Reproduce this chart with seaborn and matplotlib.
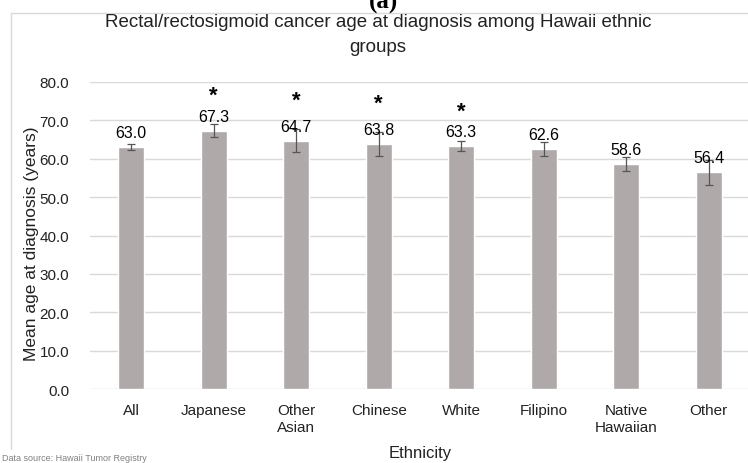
import matplotlib
matplotlib.use("Agg")
import matplotlib.pyplot as plt
from matplotlib.lines import Line2D
import seaborn as sns
import numpy as np

# Mean age at diagnosis by ethnic group, with error half-widths
categories = ["All", "Japanese", "Other\nAsian", "Chinese", "White",
              "Filipino", "Native\nHawaiian", "Other"]
mean_age = [63.0, 67.3, 64.7, 63.8, 63.3, 62.6, 58.6, 56.4]
err_half = [0.8, 1.7, 3.0, 3.0, 1.4, 1.8, 1.7, 3.3]
significant = [False, True, True, True, True, False, False, False]
y_ticks = [0, 10, 20, 30, 40, 50, 60, 70, 80]

sns.set_theme(style="white")
plt.rcParams["font.family"] = ["Liberation Sans", "DejaVu Sans"]

W, H = 748, 464
fig = plt.figure(figsize=(W / 100, H / 100), dpi=100)
ax = fig.add_axes([90 / W, 73.7 / H, 660 / W, 307.6 / H])

bar_color = "#AFAAA9"
text_color = "#222222"

sns.barplot(x=categories, y=mean_age, color=bar_color, width=0.315,
            saturation=1, errorbar=None, ax=ax, zorder=2)

xpos = np.arange(len(categories))
ax.errorbar(xpos, mean_age, yerr=err_half, fmt="none", ecolor="#555555",
            elinewidth=0.9, capsize=3, capthick=0.9, zorder=3)

# value labels above each bar
for x, v in zip(xpos, mean_age):
    ax.annotate(f"{v:.1f}", (x, v), xytext=(0, 5), textcoords="offset points",
                ha="center", va="bottom", fontsize=11.5, color="black", zorder=4)

# significance markers
for x, v, e, s in zip(xpos, mean_age, err_half, significant):
    if s:
        ax.text(x, v + e + 7.6, "*", ha="center", va="center",
                fontsize=16, fontweight="bold", color="black")

ax.set_ylim(0, 80)
ax.set_xlim(-0.5, len(categories) - 0.5)
ax.set_yticks(y_ticks)
ax.set_yticklabels([f"{t:.1f}" for t in y_ticks])
ax.yaxis.grid(True, color="#D9D9D9", linewidth=1, zorder=0)
ax.set_axisbelow(True)
for side in ["left", "right", "top", "bottom"]:
    ax.spines[side].set_visible(False)
ax.tick_params(axis="y", length=0, pad=15, labelsize=11, labelcolor=text_color)
ax.tick_params(axis="x", length=0, pad=10, labelsize=11, labelcolor=text_color)
for lab in ax.get_xticklabels():
    lab.set_linespacing(1.25)

ax.set_xlabel("Ethnicity", fontsize=12, color=text_color)
ax.xaxis.set_label_coords(0.5, -0.205)
ax.xaxis.label.set_va("center")
ax.set_ylabel("Mean age at diagnosis (years)", fontsize=12.5, color=text_color)
ax.yaxis.set_label_coords(-0.089, 0.478)
ax.yaxis.label.set_va("center")

fig.text(378 / W, 1 - 35 / H,
         "Rectal/rectosigmoid cancer age at diagnosis among Hawaii ethnic\ngroups",
         ha="center", va="center", fontsize=13.5, color=text_color, linespacing=1.55)

# chart frame: left and top edges
frame_kw = dict(transform=fig.transFigure, color="#D9D9D9", linewidth=1)
fig.lines.append(Line2D([11 / W, 11 / W], [1 - 14 / H, 1 - 450 / H], **frame_kw))
fig.lines.append(Line2D([11 / W, 1.0], [1 - 14 / H, 1 - 14 / H], **frame_kw))

fig.text(383 / W, 1 - 9 / H, "(a)", ha="center", va="baseline",
         fontsize=18, fontweight="bold", family=["Liberation Serif", "DejaVu Serif"],
         color="black")

fig.text(2 / W, 1 - 459 / H, "Data source: Hawaii Tumor Registry", ha="left",
         va="center", fontsize=6.5, color="#808080")

fig.savefig("out.png", dpi=100)
